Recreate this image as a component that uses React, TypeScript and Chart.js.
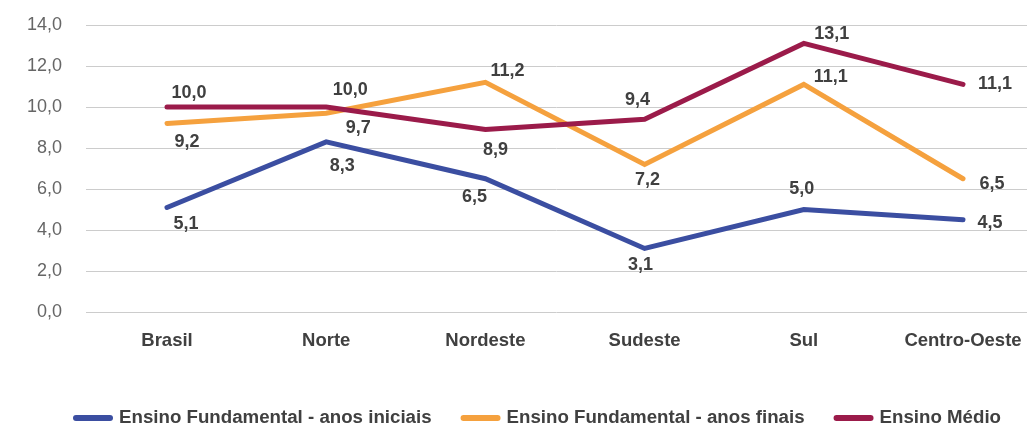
import { useEffect, useRef } from "react";
import { Chart, registerables } from "chart.js";

Chart.register(...registerables);

const categories = ["Brasil", "Norte", "Nordeste", "Sudeste", "Sul", "Centro-Oeste"];
const anosIniciais = [5.1, 8.3, 6.5, 3.1, 5.0, 4.5];
const anosFinais = [9.2, 9.7, 11.2, 7.2, 11.1, 6.5];
const ensinoMedio = [10.0, 10.0, 8.9, 9.4, 13.1, 11.1];
const seriesNames = [
  "Ensino Fundamental - anos iniciais",
  "Ensino Fundamental - anos finais",
  "Ensino Médio",
];
const yTickValues = [0, 2, 4, 6, 8, 10, 12, 14];

const colors = ["#3B4EA1", "#F5A13E", "#9B1B4A"];
const FONT = '"Liberation Sans", Arial, sans-serif';
const TEXT = "#404040";

// label offsets (dx, dy) from point to label centre, per series
const labelOffsets = [
  [[19, 17], [16, 24], [-11, 18], [-4, 17], [-2, -20], [27, 3]],
  [[20, 19], [32, 15], [22, -11], [3, 16], [27, -7], [29, 5]],
  [[22, -14], [24, -17], [10, 20], [-7, -19], [28, -9], [32, 0]],
];

const fmt = (v: number) => v.toFixed(1).replace(".", ",");

const dataLabelPlugin = {
  id: "dataLabels",
  afterDatasetsDraw(chart: any) {
    const ctx = chart.ctx;
    ctx.save();
    ctx.font = `bold 18px ${FONT}`;
    ctx.fillStyle = TEXT;
    ctx.textAlign = "center";
    ctx.textBaseline = "middle";
    chart.data.datasets.forEach((ds: any, di: number) => {
      const meta = chart.getDatasetMeta(di);
      meta.data.forEach((pt: any, i: number) => {
        const [dx, dy] = labelOffsets[di][i];
        ctx.fillText(fmt(ds.data[i].y), pt.x + dx, pt.y + dy);
      });
    });
    ctx.restore();
  },
};

const legendPlugin = {
  id: "customLegend",
  afterDraw(chart: any) {
    const ctx = chart.ctx;
    ctx.save();
    ctx.font = `bold 18.7px ${FONT}`;
    ctx.textBaseline = "middle";
    ctx.textAlign = "left";
    let x = 73;
    const y = 418;
    seriesNames.forEach((name, i) => {
      ctx.strokeStyle = colors[i];
      ctx.lineWidth = 6;
      ctx.lineCap = "round";
      ctx.beginPath();
      ctx.moveTo(x + 3, y);
      ctx.lineTo(x + 37, y);
      ctx.stroke();
      ctx.fillStyle = TEXT;
      ctx.fillText(name, x + 46, y);
      x += 46 + ctx.measureText(name).width + 29;
    });
    ctx.restore();
  },
};

export default function App() {
  const ref = useRef<HTMLCanvasElement | null>(null);
  useEffect(() => {
    if (!ref.current) return;
    const series = [anosIniciais, anosFinais, ensinoMedio];
    const chart = new Chart(ref.current, {
      type: "line",
      data: {
        datasets: series.map((vals, si) => ({
          label: seriesNames[si],
          data: vals.map((v, i) => ({ x: i, y: v })),
          borderColor: colors[si],
          backgroundColor: colors[si],
          borderWidth: 5,
          pointRadius: 0,
          pointHoverRadius: 0,
          tension: 0,
          borderCapStyle: "round",
          borderJoinStyle: "miter",
          order: 2 - si,
        })),
      },
      options: {
        animation: false,
        responsive: true,
        maintainAspectRatio: false,
        layout: { padding: { top: 25, bottom: 56, left: 0, right: 0 } },
        plugins: {
          legend: { display: false },
          tooltip: { enabled: false },
        },
        scales: {
          x: {
            type: "linear",
            min: -0.5088,
            max: 5.402,
            grid: { display: false },
            border: { display: false },
            afterBuildTicks: (scale: any) => {
              scale.ticks = categories.map((_, i) => ({ value: i }));
            },
            afterFit: (scale: any) => {
              scale.height = 60;
              scale.paddingLeft = 0;
              scale.paddingRight = 0;
            },
            ticks: {
              autoSkip: false,
              maxRotation: 0,
              padding: 10,
              color: TEXT,
              font: { family: FONT, size: 18.5, weight: "bold" },
              callback: (v: any) => categories[Number(v)] ?? "",
            },
          },
          y: {
            min: 0,
            max: 14,
            afterBuildTicks: (scale: any) => {
              scale.ticks = yTickValues.map((v) => ({ value: v }));
            },
            afterFit: (scale: any) => {
              scale.width = 86;
              scale.paddingTop = 0;
              scale.paddingBottom = 0;
            },
            grid: { color: "#cccccc", lineWidth: 1, drawTicks: false },
            border: { display: false },
            ticks: {
              padding: 24,
              color: "#666666",
              font: { family: FONT, size: 18 },
              callback: (v: any) => fmt(Number(v)),
            },
          },
        },
      },
      plugins: [dataLabelPlugin, legendPlugin],
    } as any);
    return () => chart.destroy();
  }, []);
  return (
    <div style={{ position: "absolute", left: 0, top: 0, width: 1027, height: 428 }}>
      <canvas ref={ref} />
    </div>
  );
}
